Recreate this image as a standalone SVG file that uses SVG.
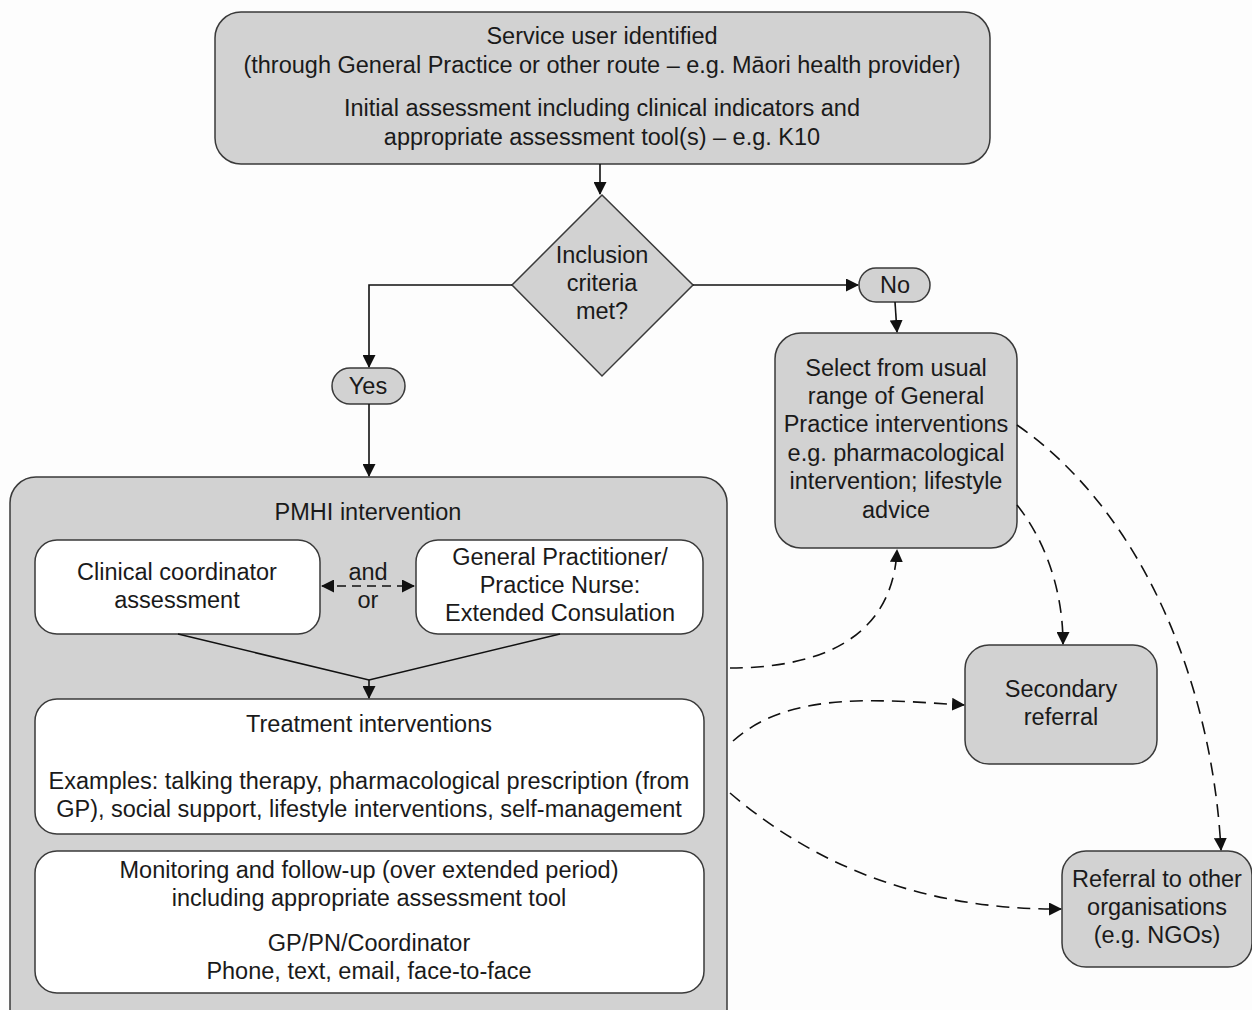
<svg xmlns="http://www.w3.org/2000/svg" width="1252" height="1010" viewBox="0 0 1252 1010">
<style>
.box{fill:#d2d2d2;stroke:#3a3a3a;stroke-width:1.5}
.wbox{fill:#ffffff;stroke:#3a3a3a;stroke-width:1.5}
text{font-family:"Liberation Sans",Arial,sans-serif;font-size:23.5px;fill:#1a1a1a;text-anchor:middle}
.ln{fill:none;stroke:#111;stroke-width:1.6}
.dash{fill:none;stroke:#111;stroke-width:1.6;stroke-dasharray:13 8}
</style>
<defs>
<marker id="ah" markerWidth="13" markerHeight="13" refX="12" refY="6.5" orient="auto" markerUnits="userSpaceOnUse">
<path d="M0,0 L13,6.5 L0,13 Z" fill="#111"/>
</marker>
<marker id="ahs" markerWidth="13" markerHeight="13" refX="1" refY="6.5" orient="auto" markerUnits="userSpaceOnUse">
<path d="M13,0 L0,6.5 L13,13 Z" fill="#111"/>
</marker>
</defs>
<rect width="1252" height="1010" fill="#fdfdfd"/>

<g id="top">
<rect class="box" x="215" y="12" width="775" height="152" rx="26"/>
<text x="602" y="44">Service user identified</text>
<text x="602" y="73">(through General Practice or other route – e.g. Māori health provider)</text>
<text x="602" y="116">Initial assessment including clinical indicators and</text>
<text x="602" y="145">appropriate assessment tool(s) – e.g. K10</text>
</g>

<g id="decision">
<polygon class="box" points="602,195 693,285 602,376 512,285"/>
<text x="602" y="263">Inclusion</text>
<text x="602" y="291">criteria</text>
<text x="602" y="319">met?</text>
</g>

<g id="yes">
<rect class="box" x="332" y="368" width="73" height="36" rx="18"/>
<text x="368" y="394">Yes</text>
</g>

<g id="no">
<rect class="box" x="859" y="268" width="71" height="34" rx="17"/>
<text x="895" y="293">No</text>
</g>

<g id="select">
<rect class="box" x="775" y="333" width="242" height="215" rx="26"/>
<text x="896" y="376">Select from usual</text>
<text x="896" y="404">range of General</text>
<text x="896" y="432">Practice interventions</text>
<text x="896" y="461">e.g. pharmacological</text>
<text x="896" y="489">intervention; lifestyle</text>
<text x="896" y="518">advice</text>
</g>

<g id="secondary">
<rect class="box" x="965" y="645" width="192" height="119" rx="24"/>
<text x="1061" y="697">Secondary</text>
<text x="1061" y="725">referral</text>
</g>

<g id="referral">
<rect class="box" x="1062" y="851" width="190" height="116" rx="24"/>
<text x="1157" y="887">Referral to other</text>
<text x="1157" y="915">organisations</text>
<text x="1157" y="943">(e.g. NGOs)</text>
</g>

<g id="pmhi">
<rect class="box" x="10" y="477" width="717" height="560" rx="26"/>
<text x="368" y="520">PMHI intervention</text>
</g>

<g id="clinical">
<rect class="wbox" x="35" y="540" width="285" height="94" rx="22"/>
<text x="177" y="580">Clinical coordinator</text>
<text x="177" y="608">assessment</text>
</g>

<g id="gp">
<rect class="wbox" x="416" y="540" width="287" height="94" rx="22"/>
<text x="560" y="565">General Practitioner/</text>
<text x="560" y="593">Practice Nurse:</text>
<text x="560" y="621">Extended Consulation</text>
</g>

<g id="andor">
<text x="368" y="580">and</text>
<text x="368" y="608">or</text>
</g>

<g id="treatment">
<rect class="wbox" x="35" y="699" width="669" height="135" rx="22"/>
<text x="369" y="732">Treatment interventions</text>
<text x="369" y="789">Examples: talking therapy, pharmacological prescription (from</text>
<text x="369" y="817">GP), social support, lifestyle interventions, self-management</text>
</g>

<g id="monitoring">
<rect class="wbox" x="35" y="851" width="669" height="142" rx="22"/>
<text x="369" y="878">Monitoring and follow-up (over extended period)</text>
<text x="369" y="906">including appropriate assessment tool</text>
<text x="369" y="951">GP/PN/Coordinator</text>
<text x="369" y="979">Phone, text, email, face-to-face</text>
</g>

<g id="connectors">
<path class="ln" d="M600,164 V194" marker-end="url(#ah)"/>
<path class="ln" d="M512,285 H369 V367" marker-end="url(#ah)"/>
<path class="ln" d="M369,404 V476" marker-end="url(#ah)"/>
<path class="ln" d="M693,285 H858" marker-end="url(#ah)"/>
<path class="ln" d="M895,302 L897,332" marker-end="url(#ah)"/>
<path class="dash" d="M322,586 H414" marker-start="url(#ahs)" marker-end="url(#ah)" style="stroke-dasharray:9 6"/>
<path class="ln" d="M178,634 L369,680 L560,634"/>
<path class="ln" d="M369,680 V698" marker-end="url(#ah)"/>
<path class="dash" d="M730,668 C800,668 892,650 897,550" marker-end="url(#ah)"/>
<path class="dash" d="M1017,505 C1045,540 1063,590 1063,644" marker-end="url(#ah)"/>
<path class="dash" d="M1017,425 C1140,510 1212,680 1221,850" marker-end="url(#ah)"/>
<path class="dash" d="M733,741 C790,690 880,700 964,705" marker-end="url(#ah)"/>
<path class="dash" d="M730,793 C820,870 930,910 1061,909" marker-end="url(#ah)"/>
</g>
</svg>
